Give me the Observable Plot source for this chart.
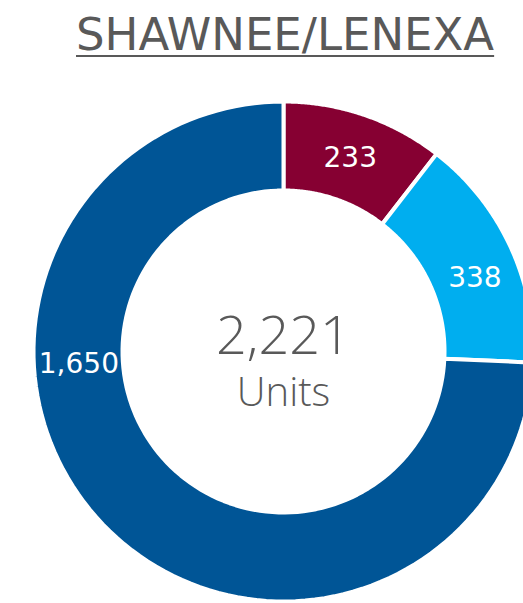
<!DOCTYPE html>
<html>
<head>
<meta charset="utf-8">
<script src="https://cdn.jsdelivr.net/npm/d3@7"></script>
<script src="https://cdn.jsdelivr.net/npm/@observablehq/plot@0.6"></script>
<style>
  html, body { margin: 0; padding: 0; background: #fff; overflow: hidden; }
  #wrap { width: 523px; height: 603px; position: relative; }
  #title {
    height: 75px; box-sizing: border-box;
    padding-top: 10px; padding-left: 76px;
    font-family: "DejaVu Sans", sans-serif; font-size: 45px; color: #595959;
    text-decoration: underline; text-decoration-thickness: 2px; text-underline-offset: 5px;
    letter-spacing: 0px; white-space: nowrap; line-height: 50px;
  }
</style>
</head>
<body>
<div id="wrap">
  <div id="title">SHAWNEE/LENEXA</div>
  <div id="chart"></div>
</div>
<script>
// ---- data ----
const categories = ["Segment A", "Segment B", "Segment C"];
const values = [233, 338, 1650];
const colors = ["#860032", "#00AEEF", "#005596"];
const centerValue = "2,221";
const centerUnit = "Units";

// ---- layout ----
const W = 523, H = 528;
const cx = 283, cy = 276;           // pixel centre within the svg
const R = 250, r0 = 161;            // outer / inner radius (px)
const labelAngles = [19, 69, 266.6]; // degrees clockwise from top
const labelR = 205;

const total = d3.sum(values);
let cum = 0;
const slices = values.map((v, i) => {
  const a0 = cum / total * 2 * Math.PI;
  cum += v;
  const a1 = cum / total * 2 * Math.PI;
  return {cat: categories[i], value: v, a0, a1, color: colors[i]};
});

const pts = [];
for (const s of slices) {
  const n = 120;
  const ring = [];
  for (let k = 0; k <= n; k++) {
    const a = s.a0 + (s.a1 - s.a0) * k / n;
    ring.push({cat: s.cat, x: R * Math.sin(a), y: R * Math.cos(a)});
  }
  for (let k = n; k >= 0; k--) {
    const a = s.a0 + (s.a1 - s.a0) * k / n;
    ring.push({cat: s.cat, x: r0 * Math.sin(a), y: r0 * Math.cos(a)});
  }
  ring.push(ring[0]);
  pts.push(...ring);
}

const labels = slices.map((s, i) => {
  const a = labelAngles[i] * Math.PI / 180;
  return {cat: s.cat, text: d3.format(",")(s.value), x: labelR * Math.sin(a), y: labelR * Math.cos(a)};
});

const chart = Plot.plot({
  width: W, height: H,
  margin: 0,
  x: {domain: [-cx, W - cx], axis: null},
  y: {domain: [-(H - cy), cy], axis: null},
  color: {domain: categories, range: colors},
  style: {background: "transparent"},
  marks: [
    Plot.line(pts, {x: "x", y: "y", z: "cat", fill: "cat", stroke: "white", strokeWidth: 4, strokeLinejoin: "miter"}),
    Plot.text(labels, {x: "x", y: "y", text: "text", fill: "white", fontSize: 28, fontFamily: "DejaVu Sans, sans-serif"}),
    Plot.text([centerValue], {x: 0, y: 0, dy: -15, text: d => d, fill: "#595959", fontSize: 54, fontWeight: 300, fontFamily: "Open Sans, sans-serif"}),
    Plot.text([centerUnit], {x: 0, y: 0, dy: 42, text: d => d, fill: "#595959", fontSize: 40, fontWeight: 300, fontFamily: "Open Sans, sans-serif"})
  ]
});
document.getElementById("chart").appendChild(chart);
</script>
</body>
</html>
